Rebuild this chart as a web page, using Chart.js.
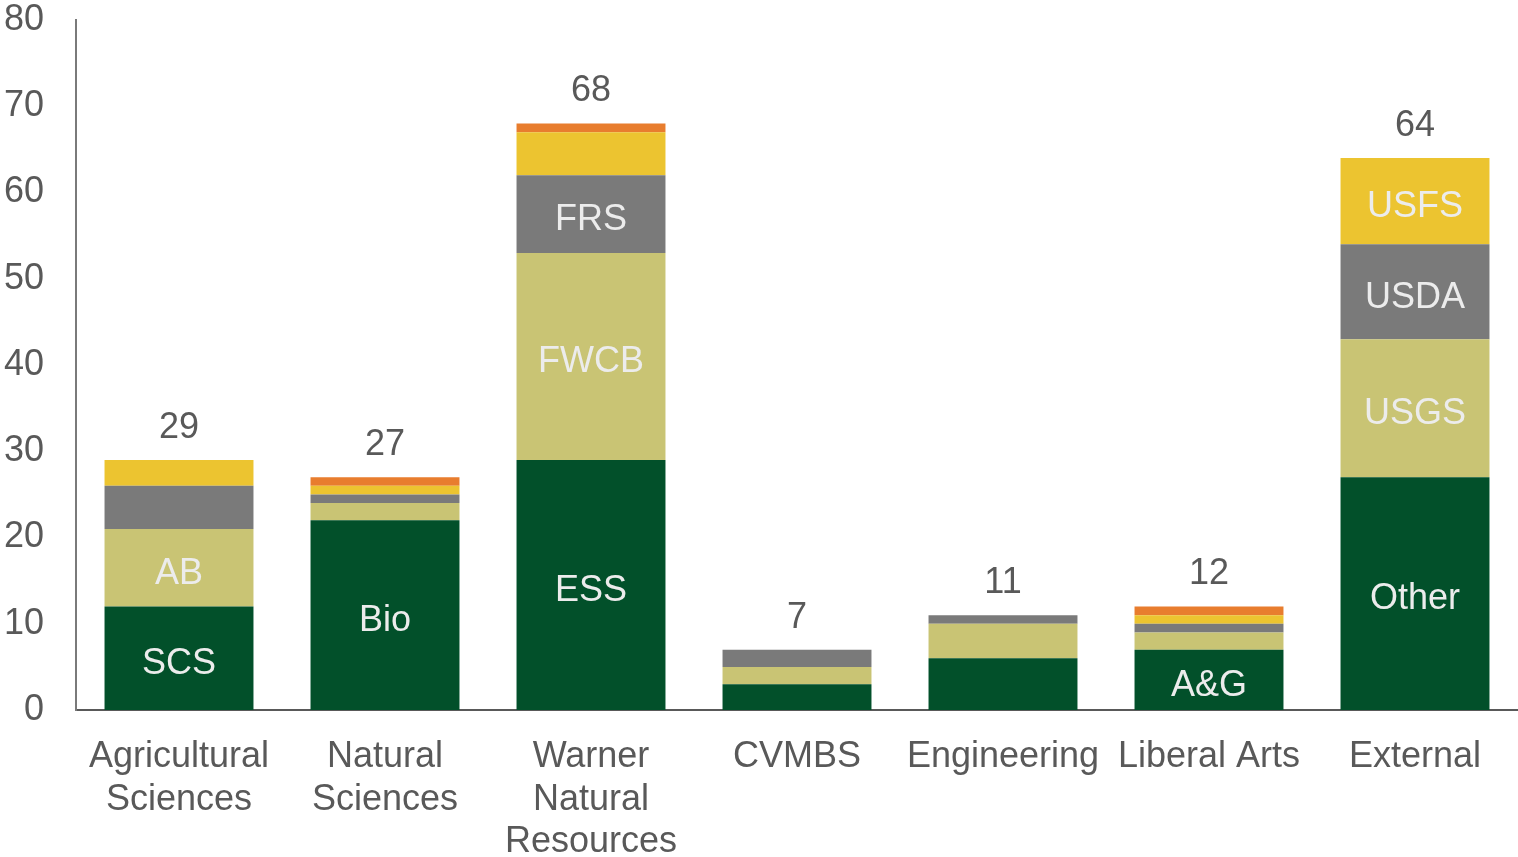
<!DOCTYPE html>
<html>
<head>
<meta charset="utf-8">
<script src="https://cdn.jsdelivr.net/npm/chart.js@4/dist/chart.umd.min.js"></script>
<style>
  html, body { margin: 0; padding: 0; background: #ffffff; }
  #wrap { width: 1518px; height: 857px; }
</style>
</head>
<body>
<div id="wrap"><canvas id="c" width="1518" height="857"></canvas></div>
<script>
// ---- data ----
const categories = [
  ['Agricultural', 'Sciences'],
  ['Natural', 'Sciences'],
  ['Warner', 'Natural', 'Resources'],
  'CVMBS',
  'Engineering',
  'Liberal Arts',
  'External'
];
const greenValues  = [12, 22, 29, 3, 6, 7, 27];
const khakiValues  = [9, 2, 24, 2, 4, 2, 16];
const grayValues   = [5, 1, 9, 2, 1, 1, 11];
const yellowValues = [3, 1, 5, 0, 0, 1, 10];
const orangeValues = [0, 1, 1, 0, 0, 1, 0];

const greenLabels  = ['SCS', 'Bio', 'ESS', '', '', 'A&G', 'Other'];
const khakiLabels  = ['AB', '', 'FWCB', '', '', '', 'USGS'];
const grayLabels   = ['', '', 'FRS', '', '', '', 'USDA'];
const yellowLabels = ['', '', '', '', '', '', 'USFS'];
const orangeLabels = ['', '', '', '', '', '', ''];

const yTicks = [0, 10, 20, 30, 40, 50, 60, 70, 80];

const totals = categories.map((_, i) =>
  greenValues[i] + khakiValues[i] + grayValues[i] + yellowValues[i] + orangeValues[i]);

// ---- style ----
const FONT = '"Liberation Sans", Arial, sans-serif';
const TEXT = '#595959';

const labelPlugin = {
  id: 'labelPlugin',
  afterDatasetsDraw(chart) {
    const ctx = chart.ctx;
    ctx.save();
    ctx.font = '36px ' + FONT;
    ctx.textAlign = 'center';
    ctx.textBaseline = 'middle';
    // segment labels
    chart.data.datasets.forEach((ds, di) => {
      const meta = chart.getDatasetMeta(di);
      meta.data.forEach((el, i) => {
        const lab = ds.segLabels[i];
        if (!lab) return;
        const p = el.getProps(['x', 'y', 'base'], true);
        ctx.fillStyle = '#ececec';
        ctx.fillText(lab, p.x, (p.y + p.base) / 2 + 6);
      });
    });
    // totals
    const ys = chart.scales.y;
    const xs = chart.scales.x;
    totals.forEach((t, i) => {
      const x = xs.getPixelForValue(i);
      const y = ys.getPixelForValue(t);
      ctx.fillStyle = TEXT;
      ctx.fillText(String(t), x, y - 32);
    });
    ctx.restore();
  }
};

function ds(label, data, color, segLabels) {
  return {
    label, data, segLabels,
    backgroundColor: color,
    borderWidth: 0,
    categoryPercentage: 1.0,
    barPercentage: 0.723
  };
}

new Chart(document.getElementById('c'), {
  type: 'bar',
  data: {
    labels: categories,
    datasets: [
      ds('green', greenValues, '#02502A', greenLabels),
      ds('khaki', khakiValues, '#C9C474', khakiLabels),
      ds('gray', grayValues, '#7A7A7A', grayLabels),
      ds('yellow', yellowValues, '#ECC430', yellowLabels),
      ds('orange', orangeValues, '#E87D2E', orangeLabels)
    ]
  },
  options: {
    responsive: false,
    devicePixelRatio: 1,
    animation: false,
    layout: { padding: { top: 20, right: 0, bottom: 0, left: 0 } },
    plugins: {
      legend: { display: false },
      tooltip: { enabled: false }
    },
    scales: {
      x: {
        stacked: true,
        grid: { display: false, drawTicks: false },
        border: { display: true, color: '#595959', width: 2 },
        ticks: {
          color: TEXT,
          font: { family: FONT, size: 36, lineHeight: 1.18 },
          padding: 26,
          autoSkip: false,
          maxRotation: 0,
          minRotation: 0
        },
        afterFit(scale) {
          scale.height = 147;
          scale.paddingLeft = 0; scale.paddingRight = 0;
        }
      },
      y: {
        stacked: true,
        min: 0,
        max: 80,
        afterBuildTicks(scale) { scale.ticks = yTicks.map(v => ({ value: v })); },
        grid: { display: false, drawTicks: false },
        border: { display: true, color: '#7a7a7a', width: 2 },
        ticks: {
          color: TEXT,
          font: { family: FONT, size: 36, lineHeight: 1.0 },
          padding: 32
        },
        afterFit(scale) {
          scale.width = 76;
          scale.paddingTop = 0; scale.paddingBottom = 0;
        }
      }
    }
  },
  plugins: [labelPlugin]
});
</script>
</body>
</html>
